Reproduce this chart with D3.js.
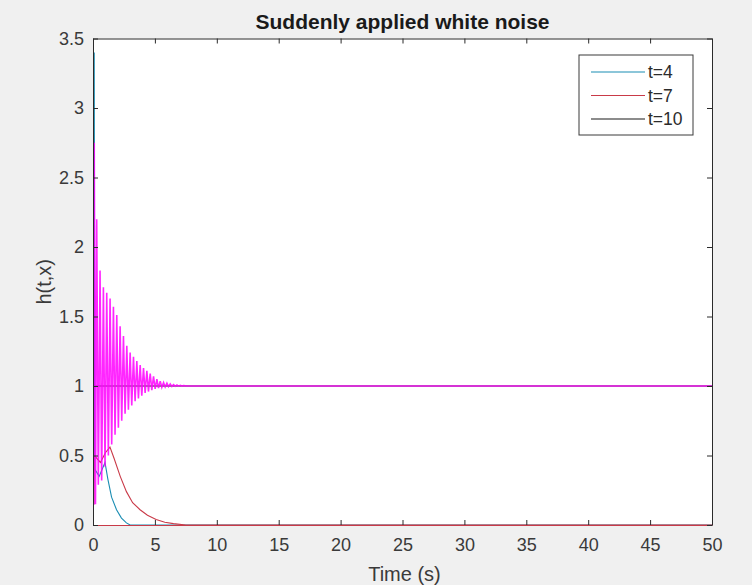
<!DOCTYPE html>
<html>
<head>
<meta charset="utf-8">
<script src="https://cdn.jsdelivr.net/npm/d3@7"></script>
<style>
  html, body { margin: 0; padding: 0; background: #f0f0f0; }
  svg { display: block; font-family: "Liberation Sans", Arial, Helvetica, sans-serif; }
</style>
</head>
<body>
<svg id="chart" width="752" height="585"></svg>
<script>
// ---------- data ----------
const titleText = "Suddenly applied white noise";
const xLabelText = "Time (s)";
const yLabelText = "h(t,x)";
const xTicks = [0, 5, 10, 15, 20, 25, 30, 35, 40, 45, 50];
const yTicks = [0, 0.5, 1, 1.5, 2, 2.5, 3, 3.5];
const seriesNames = ["t=4", "t=7", "t=10"];
const seriesColors = ["#1a8db3", "#c93a48", "#1a1a1a"];

// t=4 : initial spike then decaying hump
const t4X = [0.05, 0.1, 0.15, 0.5, 0.97, 1.2, 1.5, 1.9, 2.3, 2.7, 3.0, 50];
const t4Y = [0.3, 3.4, 0.4, 0.35, 0.45, 0.33, 0.2, 0.11, 0.05, 0.015, 0, 0];
// t=7 : decaying hump
const t7X = [0.08, 0.1, 0.6, 1.0, 1.37, 1.7, 2.2, 2.7, 3.2, 3.8, 4.4, 5.1, 5.8, 6.5, 7.5, 50];
const t7Y = [0.15, 0.5, 0.45, 0.52, 0.56, 0.48, 0.35, 0.24, 0.16, 0.11, 0.07, 0.04, 0.02, 0.01, 0, 0];
// t=10 : steady level
const t10X = [0, 50];
const t10Y = [1, 1];
// unlabelled magenta damped oscillation: peaks and troughs
const oscPeakX = [0.1, 0.3, 0.57, 0.84, 1.11, 1.38, 1.65, 1.92, 2.19, 2.46, 2.73, 3.0, 3.27, 3.54, 3.81, 4.08, 4.35, 4.62, 4.89, 5.16, 5.43, 5.7, 5.97, 6.24, 6.51, 6.78, 7.05, 7.32];
const oscPeakY = [2.75, 2.2, 1.83, 1.71, 1.67, 1.63, 1.57, 1.51, 1.43, 1.36, 1.29, 1.24, 1.21, 1.18, 1.15, 1.13, 1.11, 1.09, 1.07, 1.05, 1.035, 1.025, 1.02, 1.015, 1.01, 1.007, 1.005, 1.003];
const oscTroughX = [0.05, 0.2, 0.43, 0.7, 0.97, 1.24, 1.51, 1.78, 2.05, 2.32, 2.59, 2.86, 3.13, 3.4, 3.67, 3.94, 4.21, 4.48, 4.75, 5.02, 5.29, 5.56, 5.83, 6.1, 6.37, 6.64, 6.91, 7.18];
const oscTroughY = [0.15, 0.15, 0.29, 0.32, 0.42, 0.5, 0.58, 0.65, 0.7, 0.75, 0.8, 0.83, 0.86, 0.89, 0.91, 0.93, 0.95, 0.96, 0.97, 0.98, 0.985, 0.99, 0.993, 0.995, 0.997, 0.998, 0.999, 0.9995];
const oscTailX = [7.6, 50];
const oscTailY = [1, 1];
const oscColor = "#ff00ff";

(function () {
// ---------- layout ----------
const svg = d3.select("#chart");
const W = 752, H = 585;
const pLeft = 93, pRight = 712, pTop = 38.5, pBottom = 525;
const textColor = "#2b2b2b";

const x = d3.scaleLinear().domain([0, 50]).range([pLeft, pRight]);
const y = d3.scaleLinear().domain([0, 3.5]).range([pBottom, pTop]);

svg.append("rect").attr("width", W).attr("height", H).attr("fill", "#f0f0f0");
svg.append("rect").attr("x", pLeft).attr("y", pTop).attr("width", pRight - pLeft).attr("height", pBottom - pTop).attr("fill", "#ffffff");

svg.append("defs").append("clipPath").attr("id", "clip")
  .append("rect").attr("x", pLeft).attr("y", pTop).attr("width", pRight - pLeft).attr("height", pBottom - pTop);

const plot = svg.append("g").attr("clip-path", "url(#clip)");
const line = d3.line().x(d => x(d[0])).y(d => y(d[1]));
const zip = (xs, ys) => xs.map((v, i) => [v, ys[i]]);

const series = [zip(t4X, t4Y), zip(t7X, t7Y), zip(t10X, t10Y)];
series.forEach((s, i) => {
  plot.append("path").datum(s).attr("d", line)
    .attr("fill", "none").attr("stroke", seriesColors[i]).attr("stroke-width", 1.1);
});

// magenta oscillation (alternating extrema)
const osc = zip(oscTroughX, oscTroughY).concat(zip(oscPeakX, oscPeakY)).sort((a, b) => a[0] - b[0]);
const oscAll = [[0, 0.15]].concat(osc, zip(oscTailX, oscTailY));
plot.append("path").datum(oscAll).attr("d", line)
  .attr("fill", "none").attr("stroke", oscColor).attr("stroke-width", 1.6)
  .attr("stroke-opacity", 0.85);

// ---------- axes (ticks on all four sides, pointing inward) ----------
const fmt = d => String(d);
const axB = svg.append("g").attr("transform", `translate(0,${pBottom})`)
  .call(d3.axisBottom(x).tickValues(xTicks).tickFormat(fmt).tickSizeInner(-5).tickSizeOuter(0).tickPadding(13));
const axT = svg.append("g").attr("transform", `translate(0,${pTop})`)
  .call(d3.axisTop(x).tickValues(xTicks).tickFormat("").tickSizeInner(-5).tickSizeOuter(0));
const axL = svg.append("g").attr("transform", `translate(${pLeft},0)`)
  .call(d3.axisLeft(y).tickValues(yTicks).tickFormat(fmt).tickSizeInner(-5).tickSizeOuter(0).tickPadding(9));
const axR = svg.append("g").attr("transform", `translate(${pRight},0)`)
  .call(d3.axisRight(y).tickValues(yTicks).tickFormat("").tickSizeInner(-5).tickSizeOuter(0));

[axB, axT, axL, axR].forEach(a => {
  a.select(".domain").attr("stroke", textColor).attr("stroke-width", 1);
  a.selectAll(".tick line").attr("stroke", textColor).attr("stroke-width", 1);
  a.selectAll(".tick text").attr("fill", "#3a3a3a").attr("font-size", 18)
    .attr("font-family", "'Liberation Sans', Arial, sans-serif");
});
// keep the data line at y=0 visible over the bottom axis like the reference
axB.select(".domain").attr("stroke", "#c93a48");

// ---------- title & labels ----------
svg.append("text").attr("x", (pLeft + pRight) / 2).attr("y", 29)
  .attr("text-anchor", "middle").attr("font-size", 21).attr("font-weight", "bold")
  .attr("fill", "#1a1a1a").text(titleText);
svg.append("text").attr("x", (pLeft + pRight) / 2 + 2).attr("y", 581)
  .attr("text-anchor", "middle").attr("font-size", 20).attr("fill", "#3a3a3a").text(xLabelText);
svg.append("text").attr("transform", `translate(51,${(pTop + pBottom) / 2}) rotate(-90)`)
  .attr("text-anchor", "middle").attr("font-size", 20).attr("fill", "#3a3a3a").text(yLabelText);

// ---------- legend ----------
const lg = svg.append("g");
lg.append("rect").attr("x", 579).attr("y", 55).attr("width", 114).attr("height", 80)
  .attr("fill", "#ffffff").attr("stroke", "#3a3a3a").attr("stroke-width", 1);
seriesNames.forEach((name, i) => {
  const yy = 72 + i * 23.5;
  lg.append("line").attr("x1", 591).attr("x2", 645).attr("y1", yy).attr("y2", yy)
    .attr("stroke", seriesColors[i]).attr("stroke-width", 1.2);
  lg.append("text").attr("x", 648).attr("y", yy + 6).attr("font-size", 17.5)
    .attr("fill", "#2b2b2b").text(name);
});
})();
</script>
</body>
</html>
